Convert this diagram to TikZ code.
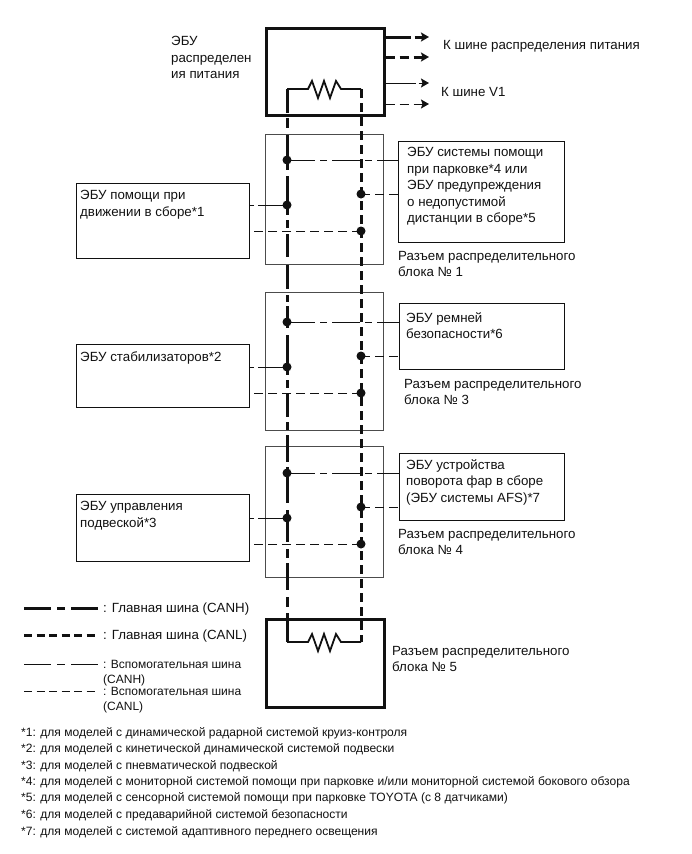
\documentclass[tikz,border=0pt]{standalone}
\usepackage{fontspec}
\setmainfont{Liberation Sans}
\usetikzlibrary{arrows.meta}
\definecolor{ink}{HTML}{111111}
\tikzset{
  x=1pt,y=-1pt,
  txt/.style={inner sep=0pt,anchor=north west,align=left,font=\fontsize{13.3}{16.6}\selectfont,text=ink},
  small/.style={txt,font=\fontsize{12}{14.6}\selectfont},
  note/.style={inner sep=0pt,anchor=west,font=\fontsize{12.05}{12}\selectfont,text=ink},
  thickbox/.style={draw=ink,line width=2.6pt,inner sep=0pt,anchor=north west},
  thinbox/.style={draw=ink!75,line width=1pt,inner sep=0pt,anchor=north west},
  ecubox/.style={draw=ink,line width=1pt,inner sep=0pt,anchor=north west},
  dot/.style={circle,fill=ink,inner sep=0pt,minimum size=9pt},
  mainH/.style={draw=ink,line width=3pt,dash pattern=on 24pt off 5pt on 10pt off 7pt on 35pt off 6pt on 39pt off 5pt on 8pt off 6pt on 23pt off 8pt on 24pt off 6pt on 7pt off 4pt on 22pt off 7pt on 40pt off 5pt on 8pt off 5pt on 24pt off 5pt on 8pt off 5pt on 27pt off 5pt on 36pt off 7pt on 32pt off 7pt on 9pt off 5pt on 27pt off 7pt on 10pt off 6pt on 40pt off 0pt},
  mainL/.style={draw=ink,line width=3pt,dash pattern=on 9pt off 5pt},
  subH/.style={draw=ink,line width=1pt,dash pattern=on 28pt off 5pt on 7pt off 5pt},
  subHL/.style={draw=ink,line width=1pt,dash pattern=on 29pt off 4pt on 6pt off 5pt},
  subL/.style={draw=ink,line width=1pt,dash pattern=on 9pt off 5pt},
  res/.style={draw=ink,line width=1.8pt,line join=miter},
  tip/.style={-{Stealth[length=8pt,width=9pt,inset=1.5pt]}},
}
\begin{document}
\begin{tikzpicture}
\useasboundingbox (0,0) rectangle (691,854);
% boxes
\node[thinbox,minimum width=118pt,minimum height=130pt] (j1) at (265,134) {};
\node[thinbox,minimum width=118pt,minimum height=138pt] (j3) at (265,292) {};
\node[thinbox,minimum width=118pt,minimum height=131pt] (j4) at (265,446) {};
\node[ecubox,minimum width=166pt,minimum height=101pt] (r1) at (398,141) {};
\node[ecubox,minimum width=165pt,minimum height=66pt] (r2) at (399,303) {};
\node[ecubox,minimum width=165pt,minimum height=67pt] (r3) at (399,453) {};
\node[ecubox,minimum width=173pt,minimum height=75pt] (l1) at (76,183) {};
\node[ecubox,minimum width=173pt,minimum height=63pt] (l2) at (76,344) {};
\node[ecubox,minimum width=173pt,minimum height=67pt] (l3) at (76,494) {};
\node[thickbox,minimum width=118pt,minimum height=87pt] (top) at (265,27) {};
\node[thickbox,minimum width=118pt,minimum height=88pt] (bot) at (265,618) {};
% coordinates
\coordinate (tH) at (287,89); \coordinate (tL) at (361,89);
\coordinate (bH) at (287,642); \coordinate (bL) at (361,642);
\coordinate (a1) at (429,37); \coordinate (a2) at (429,57);
\coordinate (a3) at (429,83); \coordinate (a4) at (429,104);
% dots
\node[dot] (d1a) at (287,160) {}; \node[dot] (d1b) at (361,194) {};
\node[dot] (d1c) at (287,205) {}; \node[dot] (d1d) at (361,231) {};
\node[dot] (d2a) at (287,322) {}; \node[dot] (d2b) at (361,356) {};
\node[dot] (d2c) at (287,367) {}; \node[dot] (d2d) at (361,393) {};
\node[dot] (d3a) at (287,473) {}; \node[dot] (d3b) at (361,507) {};
\node[dot] (d3c) at (287,518) {}; \node[dot] (d3d) at (361,544) {};
% bus
\draw[mainH] (tH) -- (bH);
\draw[mainL] (tL) -- (bL);
% resistors
\draw[res] (tH) -- (308,89) -- (312,81) -- (318,98) -- (324,81) -- (330,98) -- (336,81) -- (341,89) -- (tL);
\draw[res] (bH) -- (308,642) -- (312,634) -- (318,651) -- (324,634) -- (330,651) -- (336,634) -- (341,642) -- (bL);
% stubs
\foreach \n/\r/\l in {1/r1/l1,2/r2/l2,3/r3/l3}{
  \draw[subH] (d\n a.center) -- (d\n a.center -| \r.west);
  \draw[subL] (d\n b.center) -- (d\n b.center -| \r.west);
  \draw[subHL] (d\n c.center) -- (d\n c.center -| \l.east);
  \draw[subL] (d\n d.center) -- (d\n d.center -| \l.east);
}
% outputs
\draw[draw=ink,line width=3pt,dash pattern=on 25pt off 4pt on 10pt off 4pt,-{Stealth[length=8pt,width=9pt,inset=1.5pt]}] (top.east |- a1) -- (a1);
\draw[draw=ink,line width=3pt,dash pattern=on 9pt off 5pt,-{Stealth[length=8pt,width=9pt,inset=1.5pt]}] (top.east |- a2) -- (a2);
\draw[subH,tip,dash pattern=on 30pt off 3pt] (top.east |- a3) -- (a3);
\draw[subL,tip] (top.east |- a4) -- (a4);
% labels
\node[txt] (t0) at (171,36) {ЭБУ\\распределен\\ия питания};
\node[txt] (t1) at (443,40) {К шине распределения питания};
\node[txt] (t2) at (441,87) {К шине V1};
\node[txt] (t3) at (407,147) {ЭБУ системы помощи\\при парковке*4 или\\ЭБУ предупреждения\\о недопустимой\\дистанции в сборе*5};
\node[txt] (t4) at (80,190) {ЭБУ помощи при\\движении в сборе*1};
\node[txt] (t5) at (398,251) {Разъем распределительного\\блока № 1};
\node[txt] (t6) at (406,312) {ЭБУ ремней\\безопасности*6};
\node[txt] (t7) at (80,352) {ЭБУ стабилизаторов*2};
\node[txt] (t8) at (404,379) {Разъем распределительного\\блока № 3};
\node[txt] (t9) at (406,459) {ЭБУ устройства\\поворота фар в сборе\\(ЭБУ системы AFS)*7};
\node[txt] (t10) at (80,501) {ЭБУ управления\\подвеской*3};
\node[txt] (t11) at (398,529) {Разъем распределительного\\блока № 4};
\node[txt] (t12) at (392,646) {Разъем распределительного\\блока № 5};
% legend
\coordinate (k1a) at (24,608); \coordinate (k1b) at (98,608);
\coordinate (k2a) at (24,635); \coordinate (k2b) at (98,635);
\coordinate (k3a) at (24,664); \coordinate (k3b) at (98,664);
\coordinate (k4a) at (24,691); \coordinate (k4b) at (98,691);
\draw[mainH,dash pattern=on 27pt off 6pt on 8pt off 6pt] (k1a) -- (k1b);
\draw[mainL,dash pattern=on 8pt off 4.5pt] (k2a) -- (k2b);
\draw[subH,dash pattern=on 27pt off 6pt on 8pt off 6pt] (k3a) -- (k3b);
\draw[subL,dash pattern=on 8pt off 4.5pt] (k4a) -- (k4b);
\node[txt,anchor=west] (k1) at (100,609) {\hspace{3pt}: Главная шина (CANH)};
\node[txt,anchor=west] (k2) at (100,636) {\hspace{3pt}: Главная шина (CANL)};
\node[small] (k3) at (103,660) {: Вспомогательная шина\\(CANH)};
\node[small] (k4) at (103,687) {: Вспомогательная шина\\(CANL)};
% notes
\node[note] (n1) at (21,733) {*1: для моделей с динамической радарной системой круиз-контроля};
\node[note] (n2) at (21,749) {*2: для моделей с кинетической динамической системой подвески};
\node[note] (n3) at (21,766) {*3: для моделей с пневматической подвеской};
\node[note] (n4) at (21,782) {*4: для моделей с мониторной системой помощи при парковке и/или мониторной системой бокового обзора};
\node[note] (n5) at (21,798) {*5: для моделей с сенсорной системой помощи при парковке TOYOTA (с 8 датчиками)};
\node[note] (n6) at (21,815) {*6: для моделей с предаварийной системой безопасности};
\node[note] (n7) at (21,832) {*7: для моделей с системой адаптивного переднего освещения};
\end{tikzpicture}
\end{document}
